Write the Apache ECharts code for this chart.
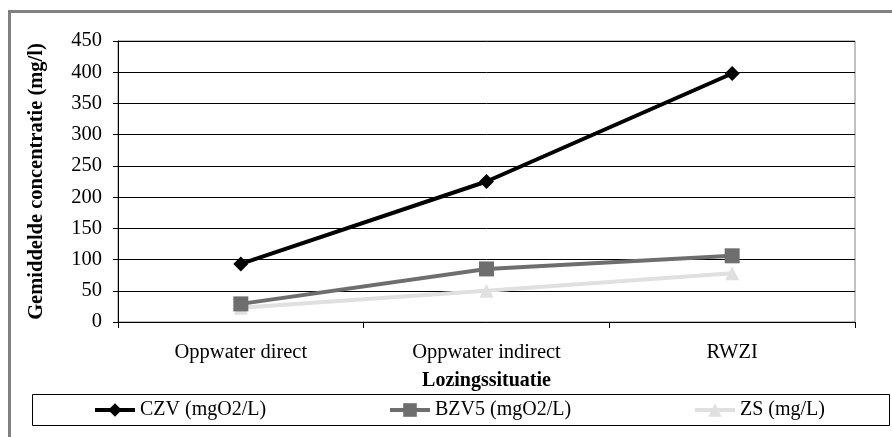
<!DOCTYPE html>
<html>
<head>
<meta charset="utf-8">
<script src="https://cdn.jsdelivr.net/npm/echarts@6/dist/echarts.min.js"></script>
<style>html,body{margin:0;padding:0;background:#fff}#c{width:892px;height:437px}</style>
</head>
<body>
<div id="c"></div>
<script>
const categories = ['Oppwater direct', 'Oppwater indirect', 'RWZI'];
const czv = [93, 225, 398];
const bzv5 = [29, 85, 106];
const zs = [23, 50, 78];
const seriesNames = ['CZV (mgO2/L)', 'BZV5 (mgO2/L)', 'ZS (mg/L)'];
const yAxisName = 'Gemiddelde concentratie (mg/l)';
const xAxisName = 'Lozingssituatie';

const FONT = '"Liberation Serif", "Times New Roman", serif';
const chart = echarts.init(document.getElementById('c'), null, {renderer: 'canvas'});
const legendText = {fontFamily: FONT, fontSize: 20, color: '#000'};
const legendBase = {top: 400, padding: 0, itemWidth: 40, itemHeight: 17, textStyle: legendText,
  lineStyle: {width: 4}};
chart.setOption({
  animation: false,
  backgroundColor: '#fff',
  grid: {left: 118, right: 37, top: 41, bottom: 115, show: true, borderColor: '#808080', borderWidth: 1},
  xAxis: {
    type: 'category', data: categories, boundaryGap: true,
    axisLine: {lineStyle: {color: '#000', width: 1}},
    axisTick: {show: true, length: 6, lineStyle: {color: '#000'}},
    axisLabel: {fontFamily: FONT, fontSize: 20.5, color: '#000', margin: 20},
    name: xAxisName, nameLocation: 'middle', nameGap: 49,
    nameTextStyle: {fontFamily: FONT, fontSize: 20, fontWeight: 'bold', color: '#000'}
  },
  yAxis: {
    type: 'value', min: 0, max: 450, interval: 50,
    axisLine: {show: true, lineStyle: {color: '#000', width: 1}},
    axisTick: {show: true, length: 5, lineStyle: {color: '#000'}},
    axisLabel: {fontFamily: FONT, fontSize: 20.5, color: '#000', margin: 16},
    splitLine: {lineStyle: {color: '#000', width: 1}},
    name: yAxisName, nameLocation: 'middle', nameGap: 71,
    nameTextStyle: {fontFamily: FONT, fontSize: 20.5, fontWeight: 'bold', color: '#000'}
  },
  legend: [
    Object.assign({data: [seriesNames[0]], left: 93}, legendBase),
    Object.assign({data: [seriesNames[1]], left: 388}, legendBase),
    Object.assign({data: [seriesNames[2]], left: 693}, legendBase)
  ],
  graphic: [
    {type: 'rect', shape: {x: 32.5, y: 394.5, width: 857, height: 31}, style: {fill: 'none', stroke: '#000', lineWidth: 1}, z: -1},
    {type: 'polyline', shape: {points: [[9.5, 437], [9.5, 11.5], [892, 11.5]]}, style: {fill: 'none', stroke: '#808080', lineWidth: 3}}
  ],
  series: [
    {name: seriesNames[0], type: 'line', data: czv, symbol: 'diamond', symbolSize: 15,
     lineStyle: {color: '#000', width: 4}, itemStyle: {color: '#000'}, z: 5},
    {name: seriesNames[1], type: 'line', data: bzv5, symbol: 'rect', symbolSize: 15,
     lineStyle: {color: '#6e6e6e', width: 4}, itemStyle: {color: '#6e6e6e'}, z: 4},
    {name: seriesNames[2], type: 'line', data: zs, symbol: 'triangle', symbolSize: 14,
     lineStyle: {color: '#e0e0e0', width: 4}, itemStyle: {color: '#e0e0e0'}, z: 3}
  ]
});
</script>
</body>
</html>
